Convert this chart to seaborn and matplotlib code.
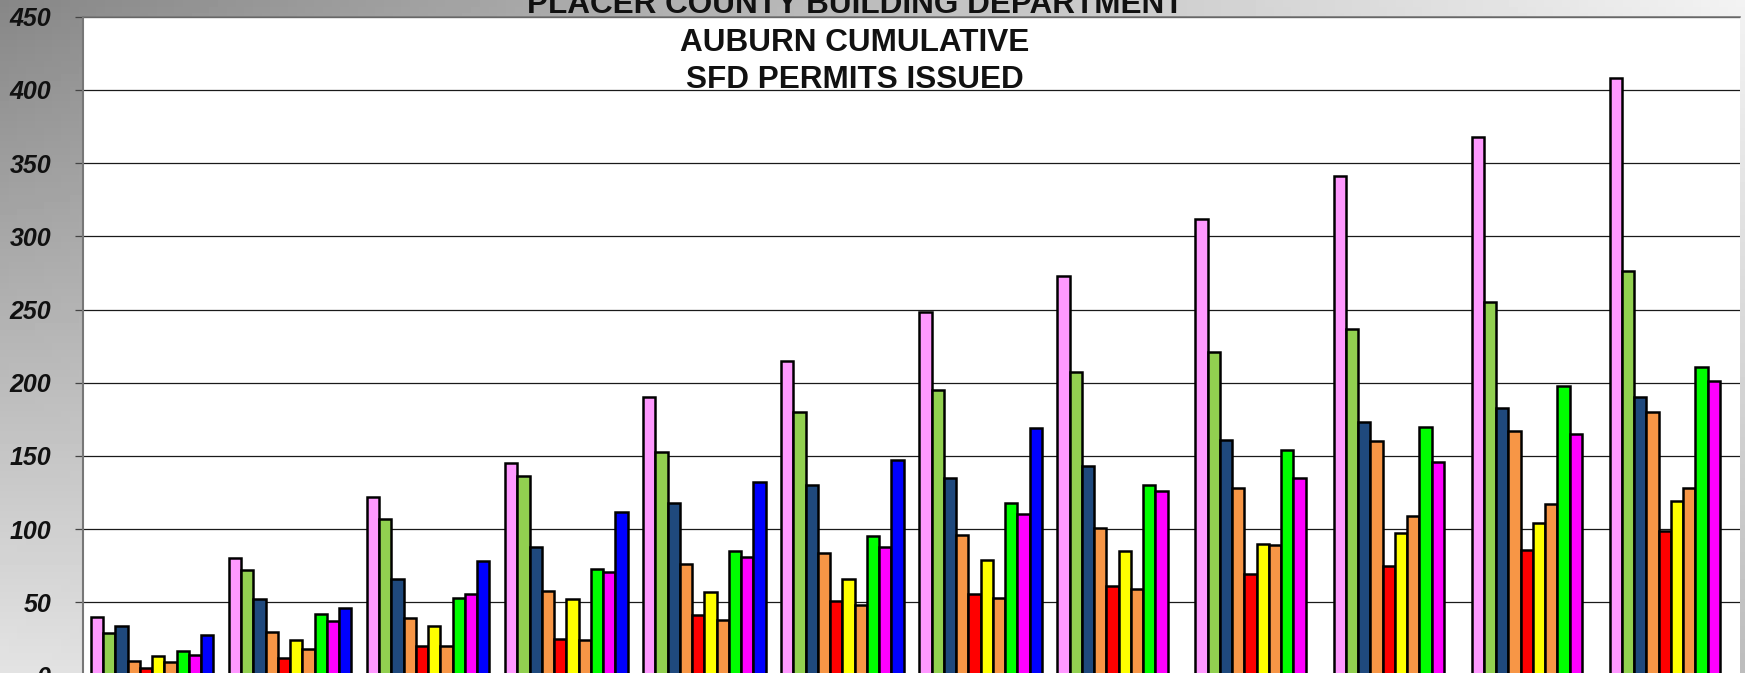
import numpy as np
import pandas as pd
import seaborn as sns
import matplotlib.pyplot as plt

sns.set_style('white')
plt.rcParams['font.family'] = ['Liberation Sans', 'DejaVu Sans']

# months on the x axis (labels fall below the visible picture)
months = ['JAN', 'FEB', 'MAR', 'APR', 'MAY', 'JUN',
          'JUL', 'AUG', 'SEP', 'OCT', 'NOV', 'DEC']
years = ['2000', '2001', '2002', '2003', '2004',
         '2005', '2006', '2007', '2008', '2009']
colors = ['#FF99FF', '#92D050', '#1F497D', '#F79646', '#FF0000',
          '#FFFF00', '#F79646', '#00FF00', '#FF00FF', '#0000FF']

# cumulative permits per year
y2000 = [40, 80, 122, 145, 190, 215, 248, 273, 312, 341, 368, 408]
y2001 = [29, 72, 107, 136, 153, 180, 195, 207, 221, 237, 255, 276]
y2002 = [34, 52, 66, 88, 118, 130, 135, 143, 161, 173, 183, 190]
y2003 = [10, 30, 39, 58, 76, 84, 96, 101, 128, 160, 167, 180]
y2004 = [5, 12, 20, 25, 41, 51, 56, 61, 69, 75, 86, 99]
y2005 = [13, 24, 34, 52, 57, 66, 79, 85, 90, 97, 104, 119]
y2006 = [9, 18, 20, 24, 38, 48, 53, 59, 89, 109, 117, 128]
y2007 = [17, 42, 53, 73, 85, 95, 118, 130, 154, 170, 198, 211]
y2008 = [14, 37, 56, 71, 81, 88, 110, 126, 135, 146, 165, 201]
y2009 = [28, 46, 78, 112, 132, 147, 169, None, None, None, None, None]

series = [y2000, y2001, y2002, y2003, y2004,
          y2005, y2006, y2007, y2008, y2009]

rows = []
for yr, vals in zip(years, series):
    for m, v in zip(months, vals):
        rows.append({'month': m, 'year': yr,
                     'permits': np.nan if v is None else v})
df = pd.DataFrame(rows)

W, H = 1745, 673
fig = plt.figure(figsize=(W / 100, H / 100), dpi=100)

# gray gradient background behind the plot
bg = fig.add_axes([0, 0, 1, 1], zorder=-5)
xx, yy = np.meshgrid(np.linspace(0, 1, 200), np.linspace(0, 1, 100))
tl, tr, bl, br = 0.53, 0.95, 0.89, 0.74
grad = (tl * (1 - xx) * (1 - yy) + tr * xx * (1 - yy)
        + bl * (1 - xx) * yy + br * xx * yy)
bg.imshow(grad, cmap='gray', vmin=0, vmax=1, aspect='auto',
          extent=[0, 1, 1, 0])
bg.axis('off')

left = 83 / W
right = 1740 / W
bottom = (H - 675.5) / H
top = 1 - 16.7 / H
ax = fig.add_axes([left, bottom, right - left, top - bottom])
ax.set_facecolor('white')

sns.barplot(data=df, x='month', y='permits', hue='year', order=months,
            hue_order=years, palette=colors, edgecolor='black',
            linewidth=1.8, width=0.887, errorbar=None, legend=False,
            saturation=1, ax=ax)

ax.set_ylim(0, 450)
ax.set_xlim(-0.5, 11.5)
ax.set_yticks(range(0, 451, 50))
ax.yaxis.grid(True, color='#1a1a1a', linewidth=0.9)
ax.set_axisbelow(True)
ax.set_xlabel('')
ax.set_ylabel('')
ax.tick_params(axis='x', bottom=False, labelbottom=False)
ax.tick_params(axis='y', left=True, length=6, width=0.9, color='#444444',
               pad=17, labelsize=18, labelcolor='#111111')
for lab in ax.get_yticklabels():
    lab.set_fontweight('bold')
    lab.set_fontstyle('italic')

for side in ['right', 'bottom']:
    ax.spines[side].set_visible(False)
ax.spines['left'].set_color('#777777')
ax.spines['left'].set_linewidth(1.5)
ax.spines['top'].set_color('#777777')
ax.spines['top'].set_linewidth(1.2)

cx = 855 / W
fig.text(cx, 1 - 13 / H, 'PLACER COUNTY BUILDING DEPARTMENT',
         ha='center', va='baseline', fontsize=22.7, fontweight='bold',
         color='#111111')
fig.text(cx, 1 - 51 / H, 'AUBURN CUMULATIVE', ha='center', va='baseline',
         fontsize=22.7, fontweight='bold', color='#111111')
fig.text(cx, 1 - 88 / H, 'SFD PERMITS ISSUED', ha='center', va='baseline',
         fontsize=22.7, fontweight='bold', color='#111111')

fig.savefig('out.png', dpi=100)
